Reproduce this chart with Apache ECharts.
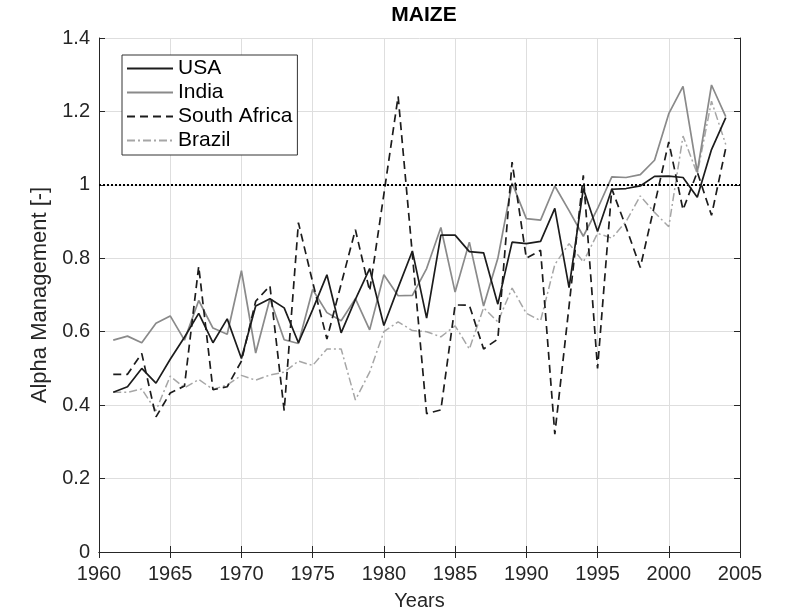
<!DOCTYPE html>
<html>
<head>
<meta charset="utf-8">
<title>MAIZE</title>
<script src="https://cdn.jsdelivr.net/npm/echarts@6/dist/echarts.min.js"></script>
<style>
  html, body { margin: 0; padding: 0; background: #fff; }
  #chart { width: 787px; height: 616px; }
</style>
</head>
<body>
<div id="chart"></div>
<script>
// years on the x axis
const years = [
  1961, 1962, 1963, 1964, 1965, 1966, 1967, 1968, 1969, 1970,
  1971, 1972, 1973, 1974, 1975, 1976, 1977, 1978, 1979, 1980,
  1981, 1982, 1983, 1984, 1985, 1986, 1987, 1988, 1989, 1990,
  1991, 1992, 1993, 1994, 1995, 1996, 1997, 1998, 1999, 2000,
  2001, 2002, 2003, 2004
];

const usa = [
  0.435, 0.45, 0.50, 0.46, 0.525, 0.585, 0.65, 0.57, 0.635, 0.527,
  0.67, 0.69, 0.665, 0.57, 0.66, 0.755, 0.597, 0.688, 0.772, 0.617,
  0.72, 0.82, 0.637, 0.863, 0.863, 0.818, 0.815, 0.675, 0.844, 0.84,
  0.846, 0.936, 0.72, 0.99, 0.873, 0.988, 0.99, 0.997, 1.023, 1.024,
  1.02, 0.966, 1.096, 1.183
];

const india = [
  0.577, 0.588, 0.57, 0.623, 0.643, 0.577, 0.685, 0.61, 0.593, 0.766,
  0.542, 0.69, 0.578, 0.568, 0.715, 0.652, 0.63, 0.69, 0.605, 0.755,
  0.698, 0.699, 0.772, 0.884, 0.708, 0.844, 0.67, 0.80, 1.005, 0.908,
  0.904, 0.997, 0.93, 0.86, 0.935, 1.022, 1.02, 1.028, 1.067, 1.194,
  1.268, 1.035, 1.272, 1.186
];

const southAfrica = [
  0.484, 0.484, 0.541, 0.368, 0.433, 0.452, 0.778, 0.442, 0.45, 0.52,
  0.683, 0.725, 0.385, 0.897, 0.735, 0.58, 0.73, 0.878, 0.711, 0.975,
  1.241, 0.81, 0.377, 0.387, 0.673, 0.672, 0.553, 0.58, 1.062, 0.80,
  0.822, 0.321, 0.67, 1.026, 0.50, 0.989, 0.885, 0.775, 0.945, 1.117,
  0.932, 1.035, 0.917, 1.1
];

const brazil = [
  0.435, 0.435, 0.444, 0.385, 0.479, 0.447, 0.47, 0.443, 0.455, 0.481,
  0.468, 0.482, 0.49, 0.52, 0.508, 0.553, 0.553, 0.414, 0.49, 0.60,
  0.627, 0.603, 0.60, 0.586, 0.616, 0.553, 0.665, 0.627, 0.719, 0.65,
  0.63, 0.783, 0.84, 0.79, 0.868, 0.855, 0.9, 0.97, 0.925, 0.886,
  1.133, 1.03, 1.228, 1.11
];

const refLevel = 1;

function pairs(vals) {
  return years.map((y, i) => [y, vals[i]]);
}

const font = 'Liberation Sans, Arial, sans-serif';
const axisColor = '#262626';

const myChart = echarts.init(document.getElementById('chart'));

const option = {
  animation: false,
  title: {
    text: 'MAIZE',
    left: 419,
    textAlign: 'center',
    top: 0,
    textStyle: { fontFamily: font, fontSize: 21, fontWeight: 'bold', color: '#000' }
  },
  grid: { left: 99, right: 47, top: 38, bottom: 60, containLabel: false },
  legend: {
    orient: 'vertical',
    left: 122,
    top: 55,
    padding: [3, 5, 4, 4],
    itemWidth: 46,
    itemHeight: 14,
    itemGap: 3,
    backgroundColor: '#fff',
    borderColor: '#333',
    borderWidth: 1,
    itemStyle: { opacity: 0 },
    textStyle: { fontFamily: font, fontSize: 21, lineHeight: 21, color: '#000' },
    data: ['USA', 'India', 'South Africa', 'Brazil']
  },
  xAxis: [
    {
      type: 'value',
      min: 1960,
      max: 2005,
      interval: 5,
      name: 'Years',
      nameLocation: 'middle',
      nameGap: 39,
      nameTextStyle: { fontFamily: font, fontSize: 20, color: axisColor },
      axisLine: { show: true, lineStyle: { color: axisColor, width: 1 } },
      axisTick: { show: true, inside: true, length: 6, lineStyle: { color: axisColor } },
      axisLabel: { fontFamily: font, fontSize: 20, color: axisColor, margin: 12, formatter: v => String(v) },
      splitLine: { show: true, lineStyle: { color: '#dedede', width: 1 } }
    },
    {
      type: 'value',
      position: 'top',
      min: 1960,
      max: 2005,
      interval: 5,
      axisLine: { show: true, lineStyle: { color: axisColor, width: 1 } },
      axisTick: { show: true, inside: true, length: 6, lineStyle: { color: axisColor } },
      axisLabel: { show: false },
      splitLine: { show: false }
    }
  ],
  yAxis: [
    {
      type: 'value',
      min: 0,
      max: 1.4,
      interval: 0.2,
      name: 'Alpha Management [-]',
      nameLocation: 'middle',
      nameGap: 48,
      nameTextStyle: { fontFamily: font, fontSize: 22, color: axisColor },
      axisLine: { show: true, lineStyle: { color: axisColor, width: 1 } },
      axisTick: { show: true, inside: true, length: 6, lineStyle: { color: axisColor } },
      axisLabel: {
        fontFamily: font, fontSize: 20, color: axisColor, margin: 9,
        formatter: v => String(Math.round(v * 10) / 10)
      },
      splitLine: { show: true, lineStyle: { color: '#dedede', width: 1 } }
    },
    {
      type: 'value',
      position: 'right',
      min: 0,
      max: 1.4,
      interval: 0.2,
      axisLine: { show: true, lineStyle: { color: axisColor, width: 1 } },
      axisTick: { show: true, inside: true, length: 6, lineStyle: { color: axisColor } },
      axisLabel: { show: false },
      splitLine: { show: false }
    }
  ],
  series: [
    {
      name: 'USA',
      type: 'line',
      data: pairs(usa),
      symbol: 'none',
      z: 5,
      color: '#1c1c1c',
      lineStyle: { color: '#1c1c1c', width: 1.7 },
      markLine: {
        silent: true,
        symbol: 'none',
        label: { show: false },
        lineStyle: { color: '#000', width: 2, type: [2, 2] },
        data: [{ yAxis: refLevel }]
      }
    },
    {
      name: 'India',
      type: 'line',
      data: pairs(india),
      symbol: 'none',
      z: 3,
      color: '#8a8a8a',
      lineStyle: { color: '#8a8a8a', width: 1.7 }
    },
    {
      name: 'South Africa',
      type: 'line',
      data: pairs(southAfrica),
      symbol: 'none',
      z: 4,
      color: '#1c1c1c',
      lineStyle: { color: '#1c1c1c', width: 1.7, type: [8, 5] }
    },
    {
      name: 'Brazil',
      type: 'line',
      data: pairs(brazil),
      symbol: 'none',
      z: 2,
      color: '#a6a6a6',
      lineStyle: { color: '#a6a6a6', width: 1.5, type: [8, 3, 2, 3] }
    }
  ]
};

myChart.setOption(option);
</script>
</body>
</html>
